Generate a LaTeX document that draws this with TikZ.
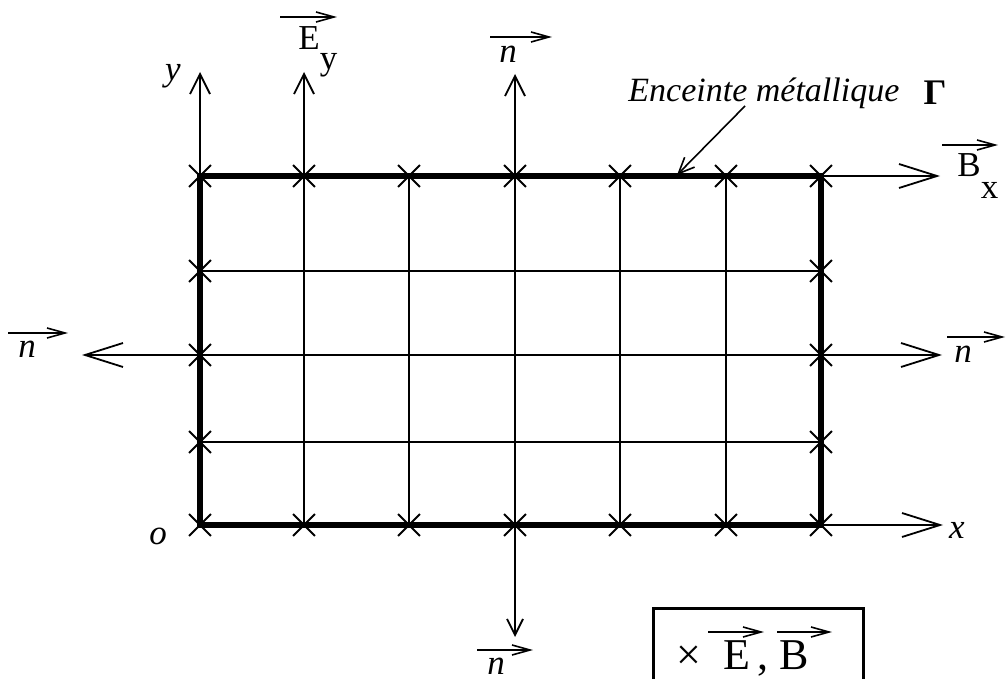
\documentclass[tikz,border=0pt]{standalone}
\usepackage{fontspec}
\setmainfont{Liberation Serif}
\usetikzlibrary{arrows.meta,shapes.misc}

\begin{document}
\begin{tikzpicture}[x=0.5pt,y=-0.5pt,
    gridline/.style={line width=0.8pt},
    wall/.style={line width=3pt},
    crossmark/.style={cross out,draw,line width=0.9pt,minimum size=10pt,inner sep=0pt},
    bigarrow/.style={gridline,-{Straight Barb[length=19pt,width=12pt,line width=0.9pt]}},
    uparrow/.style={gridline,-{Straight Barb[length=10pt,width=10pt,line width=0.9pt]}},
    downarrow/.style={gridline,-{Straight Barb[length=8pt,width=8pt,line width=0.9pt]}},
    vecbar/.style={line width=0.8pt,-{Straight Barb[length=9pt,width=5pt,line width=0.8pt]}},
    lbl/.style={inner sep=0pt,font=\fontsize{17.5}{20}\selectfont}]
    \clip (0,0) rectangle (1007,679);

    % Grid points
    \foreach \x [count=\i] in {200,304,409,515,620,726,821}
        \foreach \y [count=\j] in {176,271,355,442,525}
            \coordinate (p\i-\j) at (\x,\y);

    % Grid
    \foreach \i in {2,...,6} \draw[gridline] (p\i-1) -- (p\i-5);
    \foreach \j in {2,3,4} \draw[gridline] (p1-\j) -- (p7-\j);

    % Axes and normals
    \coordinate (ytip) at (200,72);
    \coordinate (Eytip) at (304,72);
    \coordinate (ntop) at (515,74);
    \coordinate (nbot) at (515,637);
    \coordinate (nleft) at (82,355);
    \coordinate (nright) at (942,355);
    \coordinate (Bxtip) at (940,176);
    \coordinate (xtip) at (943,525);
    \draw[uparrow] (p1-1) -- (ytip);
    \draw[uparrow] (p2-1) -- (Eytip);
    \draw[uparrow] (p4-1) -- (ntop);
    \draw[downarrow] (p4-5) -- (nbot);
    \draw[bigarrow] (p1-3) -- (nleft);
    \draw[bigarrow] (p7-3) -- (nright);
    \draw[bigarrow] (p7-1) -- (Bxtip);
    \draw[bigarrow] (p7-5) -- (xtip);

    % Metal wall
    \draw[wall] (p1-1) rectangle (p7-5);

    % Crosses
    \foreach \i in {1,...,7} {
        \node[crossmark] (t\i) at (p\i-1) {};
        \node[crossmark] (b\i) at (p\i-5) {};
    }
    \foreach \j in {2,3,4} {
        \node[crossmark] (l\j) at (p1-\j) {};
        \node[crossmark] (r\j) at (p7-\j) {};
    }

    % Labels
    \node[lbl] (ly) at (173,76) {\itshape y};
    \node[lbl] (lo) at (158,536) {\itshape o};
    \node[lbl] (lx) at (957,530) {\itshape x};
    \node[lbl,anchor=base west] (lEy) at (298,50) {E\raisebox{-10pt}{y}};
    \node[lbl,anchor=base west] (lBx) at (957,177) {B\raisebox{-11pt}{x}};
    \node[lbl] (lntop) at (508,54) {\itshape n};
    \node[lbl] (lnleft) at (27,349) {\itshape n};
    \node[lbl] (lnright) at (963,354) {\itshape n};
    \node[lbl] (lnbot) at (496,666) {\itshape n};
    \node[lbl,anchor=base west,font=\fontsize{17}{20}\selectfont] (lwall) at (628,102) {\itshape Enceinte métallique};
    \node[lbl,font=\fontsize{18}{20}\selectfont] (lgamma) at (935,93) {\bfseries Γ};

    % Vector bars
    \draw[vecbar] (280,17) -- (337,17);
    \draw[vecbar] (490,37) -- (552,37);
    \draw[vecbar] (8,333) -- (68,333);
    \draw[vecbar] (947,337) -- (1005,337);
    \draw[vecbar] (942,145) -- (998,145);
    \draw[vecbar] (477,650) -- (533,650);

    % Pointer to the wall
    \coordinate (lead) at (745,106);
    \coordinate (hit) at (677,175);
    \draw[line width=0.8pt,-{Straight Barb[length=8pt,width=7pt,line width=0.8pt]}] (lead) -- (hit);

    % Legend
    \draw[line width=1.5pt] (653,608) rectangle (863,720);
    \node[inner sep=0pt,anchor=base west,font=\fontsize{22}{24}\selectfont] (legend) at (676,669) {×\hspace{0.5em}E\,,\hspace{0.25em}B};
    \draw[vecbar] (708,632) -- (764,632);
    \draw[vecbar] (777,632) -- (832,632);
\end{tikzpicture}
\end{document}
